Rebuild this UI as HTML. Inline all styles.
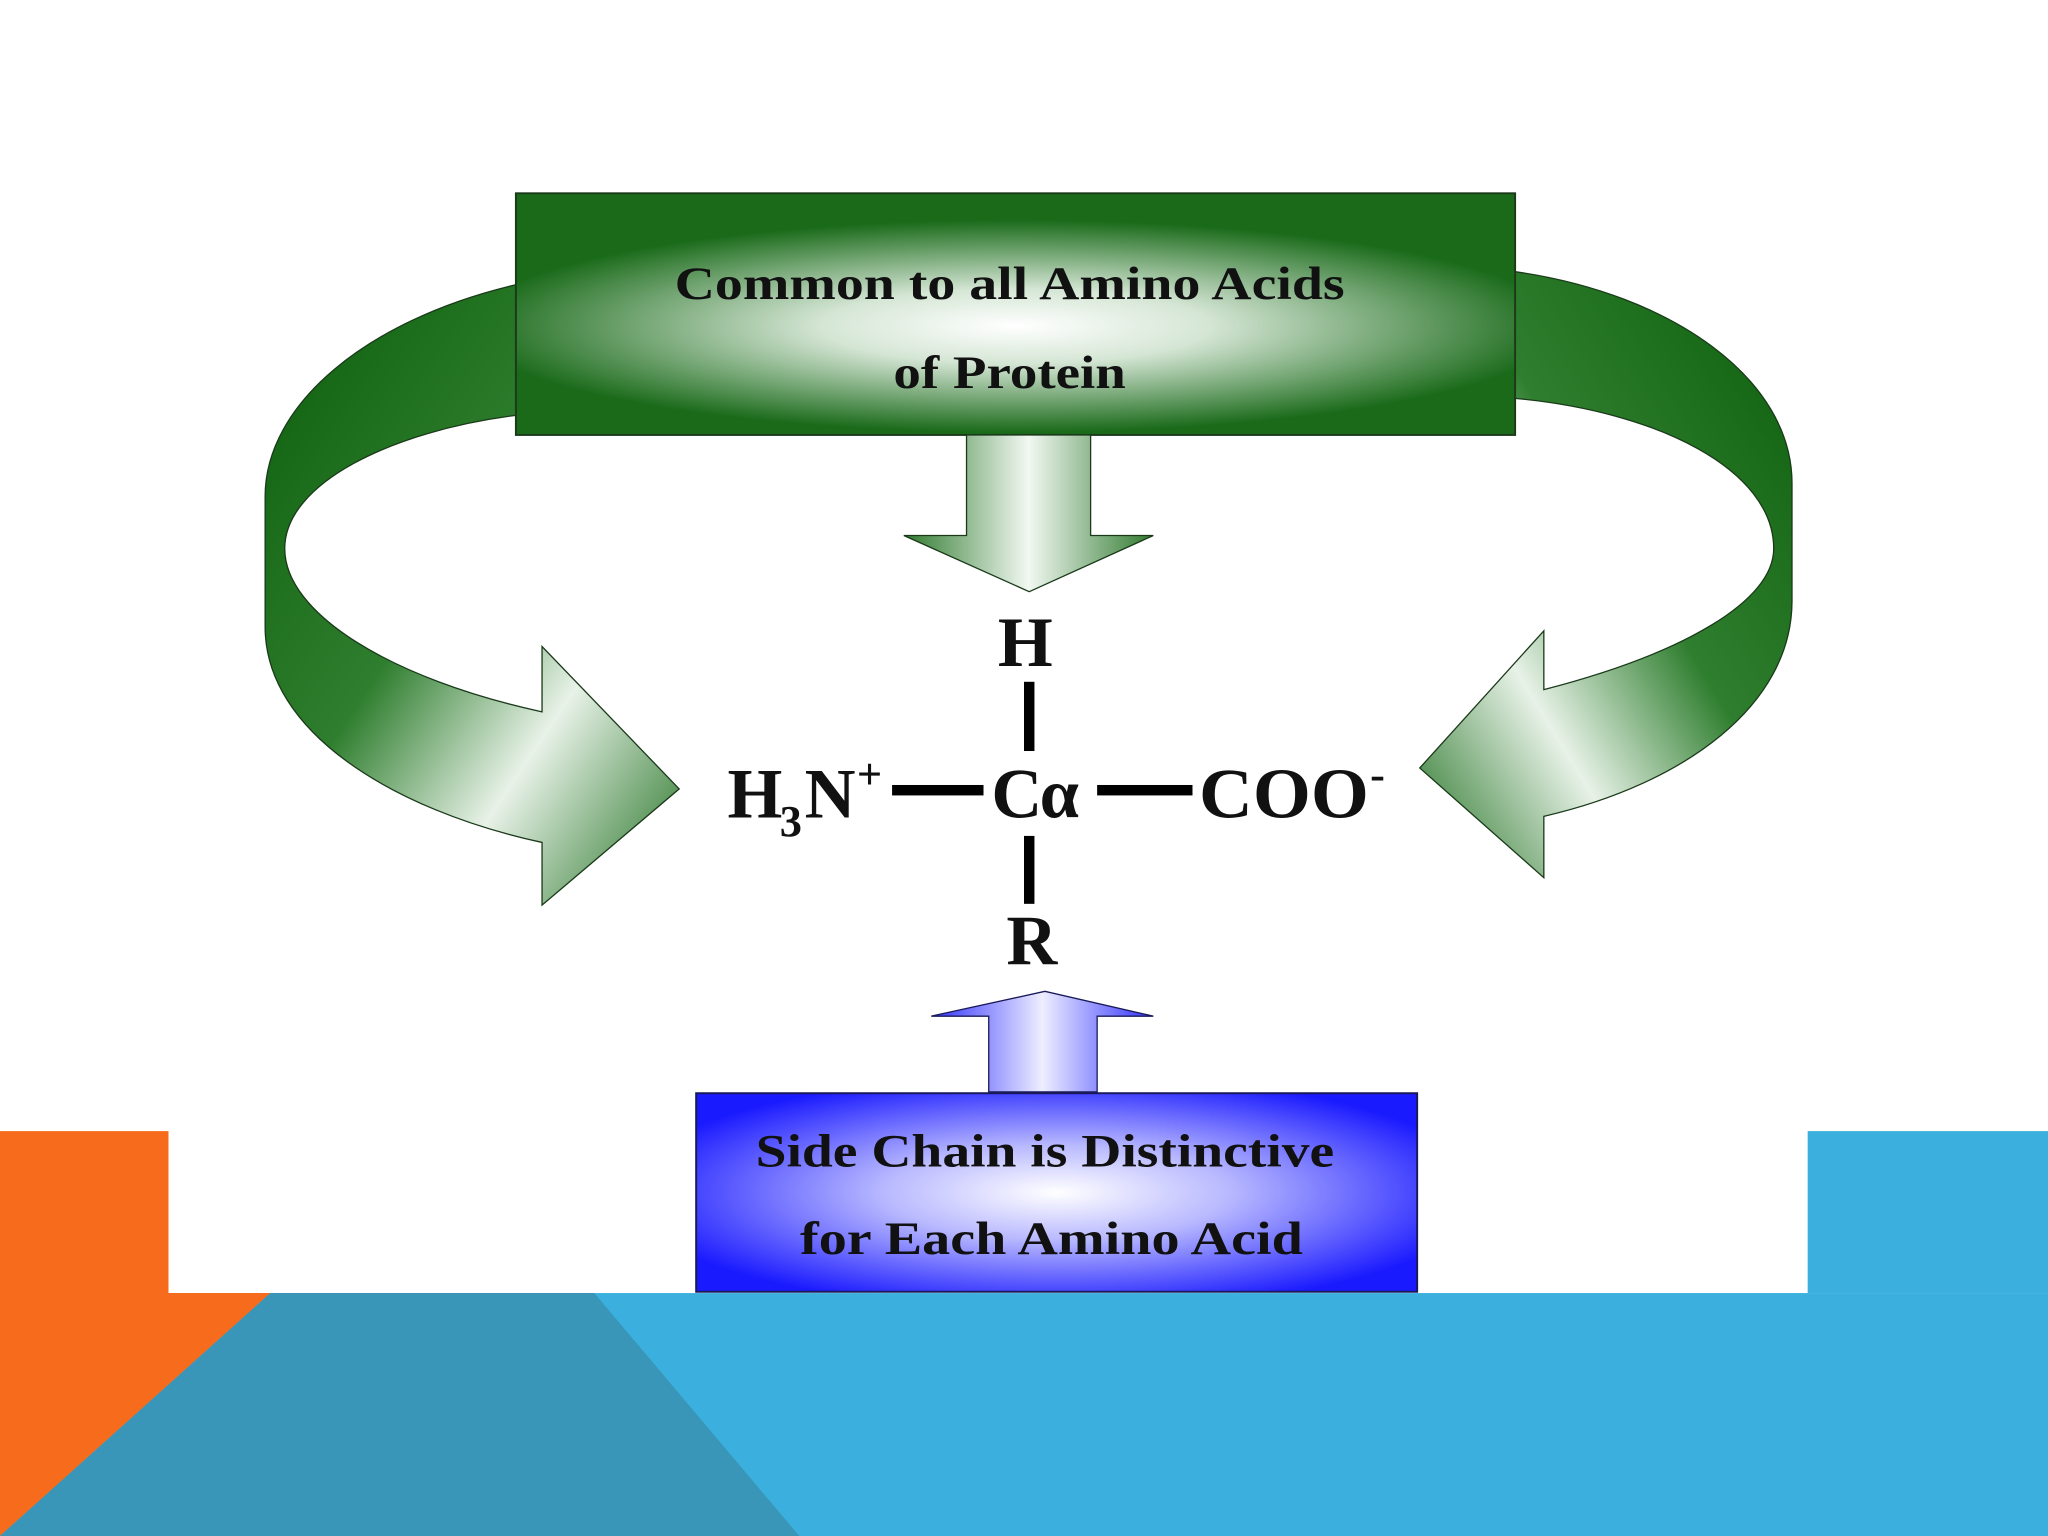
<!DOCTYPE html>
<html><head><meta charset="utf-8"><style>
html,body{margin:0;padding:0;background:#fff;}
svg{display:block;}
text{font-family:"Liberation Serif",serif;font-weight:bold;fill:#111;}
</style></head><body>
<svg width="2048" height="1536" viewBox="0 0 1568 1176" xmlns="http://www.w3.org/2000/svg">
<defs>
<radialGradient id="gbox" cx="0.5" cy="0.55" r="0.55" gradientTransform="translate(0.5 0.55) scale(1 0.8) translate(-0.5 -0.55)">
<stop offset="0" stop-color="#ffffff"/><stop offset="0.35" stop-color="#d5e6d5"/><stop offset="1" stop-color="#1a6a1a"/></radialGradient>
<radialGradient id="bbox" cx="0.5" cy="0.5" r="0.6">
<stop offset="0" stop-color="#ffffff"/><stop offset="0.4" stop-color="#b8b8ff"/><stop offset="1" stop-color="#1a1aff"/></radialGradient>
<linearGradient id="garr" x1="0" y1="0" x2="1" y2="0">
<stop offset="0" stop-color="#2f7a2f"/><stop offset="0.5" stop-color="#f2f8f2"/><stop offset="1" stop-color="#2f7a2f"/></linearGradient>
<linearGradient id="barr" x1="0" y1="0" x2="1" y2="0">
<stop offset="0" stop-color="#3030ff"/><stop offset="0.5" stop-color="#eeeeff"/><stop offset="1" stop-color="#3030ff"/></linearGradient>
<linearGradient id="gl" x1="0" y1="0" x2="1" y2="1">
<stop offset="0" stop-color="#0b5e0b"/><stop offset="0.45" stop-color="#2f7e2f"/><stop offset="0.7" stop-color="#e8f2e8"/><stop offset="1" stop-color="#1e6e1e"/></linearGradient>
<linearGradient id="gr" x1="1" y1="0" x2="0" y2="1">
<stop offset="0" stop-color="#0b5e0b"/><stop offset="0.45" stop-color="#2f7e2f"/><stop offset="0.7" stop-color="#e8f2e8"/><stop offset="1" stop-color="#1e6e1e"/></linearGradient>
</defs>
<rect x="0" y="866" width="129" height="310" fill="#f76b1c"/>
<rect x="1384" y="866" width="184" height="124" fill="#3bb0de"/>
<rect x="0" y="990" width="1568" height="186" fill="#3bb0de"/>
<polygon points="0,990 207,990 0,1176" fill="#f76b1c"/>
<polygon points="207,990 455,990 612,1176 0,1176" fill="#3a96b8"/>
<path d="M395,218 C280,245 203,310 203,380 L203,480 C203,560 300,620 415,645 L415,693 L520,604 L415,495 L415,545 C300,520 218,470 218,420 C218,370 300,330 395,318 Z" fill="url(#gl)" stroke="#1a3a1a" stroke-width="1"/>
<path d="M1160,208 C1280,225 1372,290 1372,370 L1372,460 C1372,540 1290,600 1182,625 L1182,672 L1087,588 L1182,483 L1182,528 C1290,500 1358,460 1358,420 C1358,360 1270,315 1160,305 Z" fill="url(#gr)" stroke="#1a3a1a" stroke-width="1"/>
<rect x="395" y="148" width="765" height="185" fill="url(#gbox)" stroke="#1a3a1a" stroke-width="1.5"/>
<text x="773" y="229" font-size="36" text-anchor="middle" textLength="513" lengthAdjust="spacingAndGlyphs">Common to all Amino Acids</text>
<text x="773" y="297" font-size="36" text-anchor="middle" textLength="178" lengthAdjust="spacingAndGlyphs">of Protein</text>
<path d="M740,333 L835,333 L835,410 L883,410 L788,453 L692,410 L740,410 Z" fill="url(#garr)" stroke="#1a3a1a" stroke-width="1"/>
<text x="785" y="510" font-size="54" text-anchor="middle">H</text>
<rect x="784" y="522" width="8" height="53" fill="#000"/>
<rect x="784" y="640" width="8" height="52" fill="#000"/>
<text x="557" y="626" font-size="54">H</text>
<text x="597" y="640" font-size="34">3</text>
<text x="616" y="626" font-size="54">N</text>
<text x="656" y="604" font-size="34">+</text>
<rect x="683" y="601" width="70" height="8" fill="#000"/>
<text x="759" y="626" font-size="54">C</text>
<text x="796" y="626" font-size="54" font-family="'Liberation Serif','DejaVu Serif',serif">α</text>
<rect x="840" y="601" width="73" height="8" fill="#000"/>
<text x="918" y="626" font-size="54" textLength="130" lengthAdjust="spacingAndGlyphs">COO</text>
<text x="1049" y="604" font-size="34">-</text>
<text x="790" y="738" font-size="54" text-anchor="middle">R</text>
<path d="M757,836 L840,836 L840,778 L883,778 L800,759 L713,778 L757,778 Z" fill="url(#barr)" stroke="#1a1a5a" stroke-width="1"/>
<rect x="533" y="837" width="552" height="152" fill="url(#bbox)" stroke="#1a1a5a" stroke-width="1.5"/>
<text x="800" y="893" font-size="36" text-anchor="middle" textLength="443" lengthAdjust="spacingAndGlyphs">Side Chain is Distinctive</text>
<text x="805" y="960" font-size="36" text-anchor="middle" textLength="385" lengthAdjust="spacingAndGlyphs">for Each Amino Acid</text>
</svg>
</body></html>
